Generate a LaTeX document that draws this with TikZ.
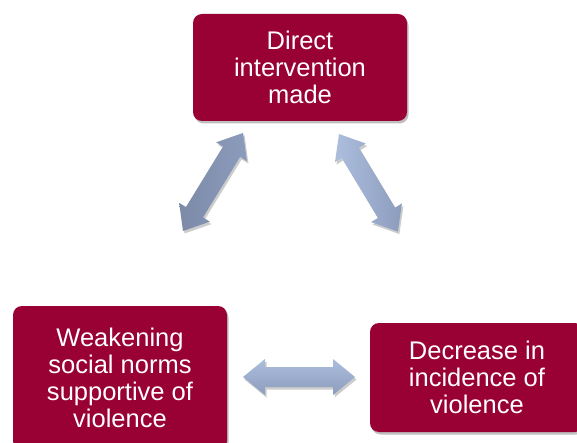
\documentclass[tikz,border=0pt]{standalone}
\usepackage{fontspec}
\setmainfont{Liberation Sans}
\usetikzlibrary{shadows}
\definecolor{boxred}{RGB}{153,0,51}
\definecolor{arrlight}{RGB}{172,190,222}
\definecolor{arrmid}{RGB}{140,156,188}
\definecolor{arrdark}{RGB}{124,138,168}
\tikzset{
  box/.style={draw=none, fill=boxred, rounded corners=9pt, text=white,
    minimum width=214pt, align=center, inner sep=0pt,
    font=\fontsize{25.5}{27}\selectfont,
    drop shadow={shadow xshift=1.5pt, shadow yshift=-2.5pt, opacity=0.25, fill=black}},
  barrow/.style={draw=none}
}
\newcommand{\dblarr}[1]{%
  (0pt,0pt) -- (22pt,18pt) -- (22pt,10pt) -- (#1pt-22pt,10pt) -- (#1pt-22pt,18pt) --
  (#1pt,0pt) -- (#1pt-22pt,-18pt) -- (#1pt-22pt,-10pt) -- (22pt,-10pt) -- (22pt,-18pt) -- cycle}
\begin{document}
\begin{tikzpicture}[x=1pt,y=-1pt]
\useasboundingbox (0,0) rectangle (577,443);
\clip (0,0) rectangle (577,443);
\fill[white] (0,0) rectangle (577,443);
\node[box, minimum height=107pt] (top) at (300,67.5) {Direct\\intervention\\made};
\node[box, minimum height=144pt] (left) at (120,378) {Weakening\\social norms\\supportive of\\violence};
\node[box, minimum height=109pt] (right) at (477,377.5) {Decrease in\\incidence of\\violence};
% left diagonal arrow
\begin{scope}[shift={(183pt,-231pt)}, rotate=58.5]
  \shade[barrow, left color=arrdark, right color=arrmid, drop shadow={shadow xshift=1.5pt, shadow yshift=-2.5pt, opacity=0.2, fill=black}] \dblarr{115};
\end{scope}
% right diagonal arrow
\begin{scope}[shift={(339pt,-134pt)}, rotate=-58.9]
  \shade[barrow, left color=arrlight, right color=arrmid, drop shadow={shadow xshift=1.5pt, shadow yshift=-2.5pt, opacity=0.2, fill=black}] \dblarr{114};
\end{scope}
% horizontal arrow
\begin{scope}[shift={(243pt,-377pt)}]
  \shade[barrow, top color=arrlight, bottom color=arrmid, drop shadow={shadow xshift=1.5pt, shadow yshift=-2.5pt, opacity=0.2, fill=black}] \dblarr{112};
\end{scope}
\end{tikzpicture}
\end{document}
